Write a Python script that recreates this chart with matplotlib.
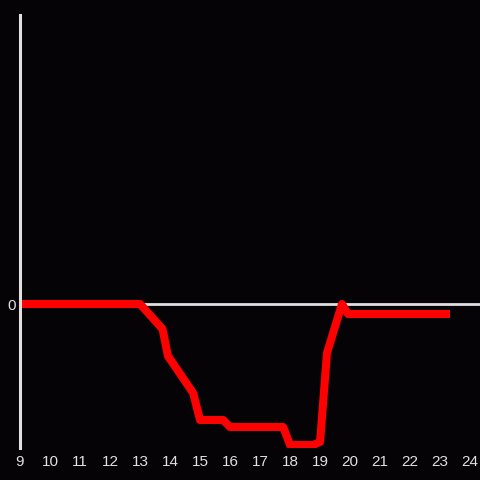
import matplotlib
matplotlib.use("Agg")
import matplotlib.pyplot as plt

# hours of the day and the value at each point
hours = [9.0, 13.0, 13.75, 13.93, 14.77, 15.0, 15.77, 16.0, 17.77, 18.0,
         18.77, 19.0, 19.23, 19.73, 19.93, 23.33]
values = [0.0, 0.0, -0.25, -0.52, -0.89, -1.16, -1.16, -1.23, -1.23, -1.41,
          -1.41, -1.38, -0.49, 0.0, -0.10, -0.10]
xticks = list(range(9, 25))

bg = "#050306"
grey = "#e0e0e0"

plt.rcParams['font.family'] = ['Liberation Sans', 'DejaVu Sans']

fig = plt.figure(figsize=(4.8, 4.8), dpi=100, facecolor=bg)
ax = fig.add_axes([20 / 480, 32 / 480, 460 / 480, 433 / 480])
ax.set_facecolor(bg)

ax.axhline(0, color=grey, linewidth=2, zorder=1)
ax.plot(hours, values, color="#ff0000", linewidth=5.8, solid_joinstyle="round",
        solid_capstyle="butt", zorder=2)

ax.set_xlim(9, 24.33)
ax.set_ylim(-1.44, 2.89)
ax.set_xticks(xticks)
ax.set_xticklabels([str(t) for t in xticks])
ax.set_yticks([0])
ax.set_yticklabels(["0"])
ax.tick_params(length=0, colors=grey, labelsize=11)
ax.tick_params(axis="x", pad=5)
ax.tick_params(axis="y", pad=3)

for side in ["top", "right", "bottom"]:
    ax.spines[side].set_visible(False)
ax.spines["left"].set_color(grey)
ax.spines["left"].set_linewidth(2.2)

fig.savefig("out.png", dpi=100, facecolor=bg)
